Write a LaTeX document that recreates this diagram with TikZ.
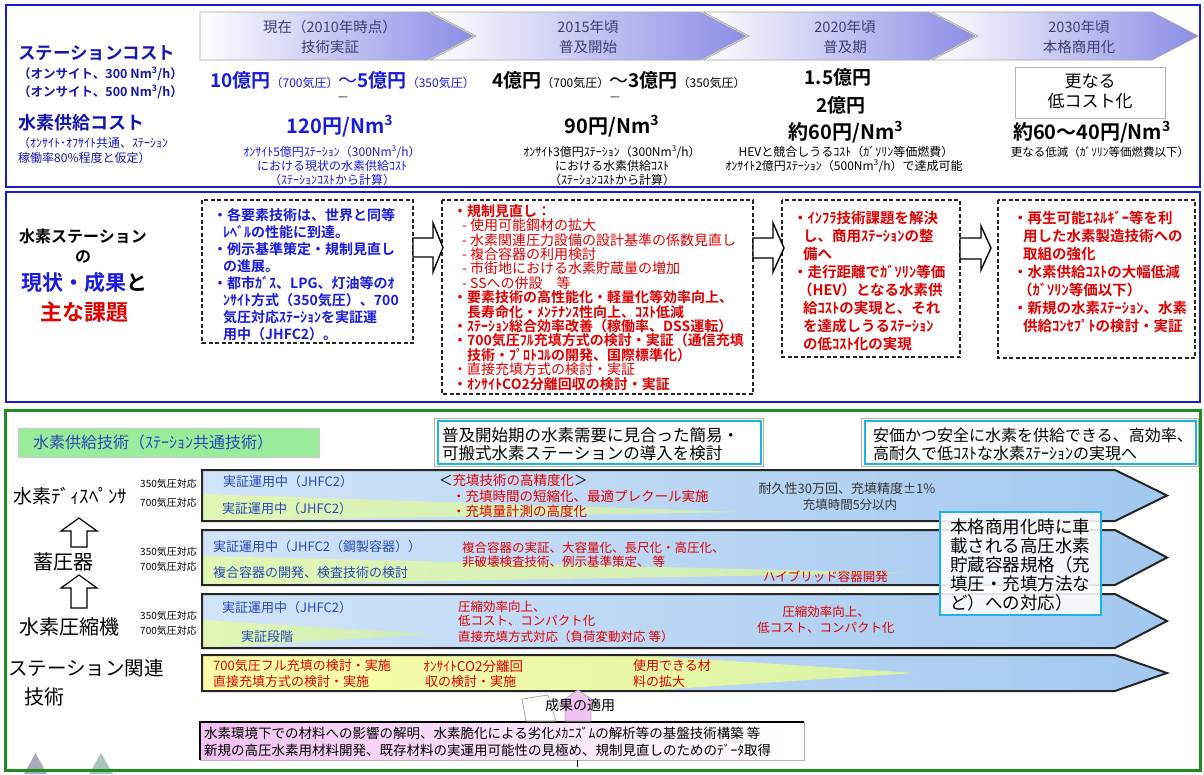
\documentclass[tikz,border=0pt]{standalone}
\usepackage{fontspec}
\setmainfont{Noto Sans CJK JP}[BoldFont={Noto Sans CJK JP Bold}]
\definecolor{secblue}{HTML}{1A1AD0}
\definecolor{lblblue}{HTML}{1414B0}
\definecolor{valblue}{HTML}{1A1AE0}
\definecolor{chevtxt}{HTML}{3E3E72}
\definecolor{chevfill}{HTML}{8C8CE6}
\definecolor{myred}{HTML}{E00000}
\definecolor{rowblue}{HTML}{2848B8}
\definecolor{secgreen}{HTML}{1E8C1E}
\definecolor{lblgreen}{HTML}{9AEC9A}
\definecolor{cyanb}{HTML}{1CB4E0}
\definecolor{rowL}{HTML}{D2E4F8}
\definecolor{rowR}{HTML}{A2C8F0}
\definecolor{wedgeL}{HTML}{E2F6B4}
\definecolor{wedgeR}{HTML}{CDEBB8}
\definecolor{yelL}{HTML}{FFFFA8}
\definecolor{yelM}{HTML}{FFFF48}
\definecolor{yelR}{HTML}{D8F2A8}
\definecolor{pinkf}{HTML}{F2C2F2}
\definecolor{txtgray}{HTML}{333333}
\newcommand\fz[1]{\fontsize{#1}{#1}\selectfont}
\newcounter{tn}
\newcommand\TL[4][west]{\stepcounter{tn}\node[anchor=#1,inner sep=0pt] (t\arabic{tn}) at (#2,#3) {#4};}
\tikzset{
  chev/.style={draw=gray!70, line width=0.8pt, left color=white, right color=chevfill},
  dbox/.style={draw=black!85, line width=1.6pt, dash pattern=on 4pt off 2.5pt},
  blockarr/.style={draw=black, line width=1.4pt, fill=white},
  rowfill/.style={left color=rowL, right color=rowR},
  rowwedge/.style={left color=wedgeL, right color=wedgeR},
  rowedge/.style={draw=black!85, line width=2pt},
  callout/.style={draw=cyanb, line width=2.5pt, fill=white},
}
\begin{document}
\begin{tikzpicture}[x=1pt,y=-1pt]
\useasboundingbox (0,0) rectangle (1204,774);
\fill[white] (0,0) rectangle (1204,774);

% ================= TOP SECTION =================
\draw[secblue, line width=2.5pt] (6,5) rectangle (1200,187);
\path[chev] (200,12) -- (427,12) -- (473,36) -- (427,60) -- (200,60) -- cycle;
\path[chev] (430,12) -- (700,12) -- (746,36) -- (700,60) -- (430,60) -- (476,36) -- cycle;
\path[chev] (703,12) -- (929,12) -- (975,36) -- (929,60) -- (703,60) -- (749,36) -- cycle;
\path[chev] (932,12) -- (1152,12) -- (1198,36) -- (1152,60) -- (932,60) -- (978,36) -- cycle;
\TL[center]{330}{27}{\color{chevtxt}\fz{14.5}現在（2010年時点）}
\TL[center]{330}{47}{\color{chevtxt}\fz{14.5}技術実証}
\TL[center]{588}{27}{\color{chevtxt}\fz{14.5}2015年頃}
\TL[center]{588}{47}{\color{chevtxt}\fz{14.5}普及開始}
\TL[center]{845}{27}{\color{chevtxt}\fz{14.5}2020年頃}
\TL[center]{845}{47}{\color{chevtxt}\fz{14.5}普及期}
\TL[center]{1079}{27}{\color{chevtxt}\fz{14.5}2030年頃}
\TL[center]{1079}{47}{\color{chevtxt}\fz{14.5}本格商用化}

% left labels
\TL{18}{53}{\color{lblblue}\bfseries\fz{17.5}ステーションコスト}
\TL{18}{74}{\color{lblblue}\bfseries\fz{12.5}（オンサイト、300 Nm\textsuperscript{3}/h）}
\TL{18}{92}{\color{lblblue}\bfseries\fz{12.5}（オンサイト、500 Nm\textsuperscript{3}/h）}
\TL{18}{123}{\color{lblblue}\bfseries\fz{18}水素供給コスト}
\TL{18}{143}{\color{lblblue}\fz{12}（ｵﾝｻｲﾄ･ｵﾌｻｲﾄ共通、ｽﾃｰｼｮﾝ}
\TL{18}{158}{\color{lblblue}\fz{12}稼働率80\%程度と仮定）}

% station cost row
\TL{210}{80}{\color{valblue}\bfseries\fz{19}10億円\mdseries\fz{12}（700気圧）\fz{19}～\bfseries 5億円\mdseries\fz{12}（350気圧）}
\TL{492}{80}{\bfseries\fz{19}4億円\mdseries\fz{12}（700気圧）\fz{19}～\bfseries 3億円\mdseries\fz{12}（350気圧）}
\TL[center]{838}{77}{\bfseries\fz{19}1.5億円}
\TL[center]{841}{105}{\bfseries\fz{19}2億円}
\draw[gray!60, line width=0.8pt, fill=white] (1015,67) rectangle (1165,118);
\TL[center]{1090}{81}{\fz{17}更なる}
\TL[center]{1090}{101}{\fz{17}低コスト化}
\TL[center]{343}{99}{\fz{11}—}
\TL[center]{615}{99}{\fz{11}—}

% supply cost row
\TL[center]{340}{126}{\color{valblue}\bfseries\fz{20}120円/Nm\textsuperscript{3}}
\TL[center]{612}{126}{\bfseries\fz{20}90円/Nm\textsuperscript{3}}
\TL[center]{846}{132}{\bfseries\fz{20}約60円/Nm\textsuperscript{3}}
\TL[center]{1092}{132}{\bfseries\fz{20}約60～40円/Nm\textsuperscript{3}}
\TL[center]{332}{152}{\color{valblue}\fz{12}ｵﾝｻｲﾄ5億円ｽﾃｰｼｮﾝ（300Nm\textsuperscript{3}/h）}
\TL[center]{332}{166}{\color{valblue}\fz{12}における現状の水素供給ｺｽﾄ}
\TL[center]{332}{180}{\color{valblue}\fz{12}（ｽﾃｰｼｮﾝｺｽﾄから計算）}
\TL[center]{612}{152}{\fz{12}ｵﾝｻｲﾄ3億円ｽﾃｰｼｮﾝ（300Nm\textsuperscript{3}/h）}
\TL[center]{612}{166}{\fz{12}における水素供給ｺｽﾄ}
\TL[center]{612}{180}{\fz{12}（ｽﾃｰｼｮﾝｺｽﾄから計算）}
\TL[center]{846}{152}{\fz{12}HEVと競合しうるｺｽﾄ（ｶﾞｿﾘﾝ等価燃費）}
\TL[center]{844}{166}{\fz{12}ｵﾝｻｲﾄ2億円ｽﾃｰｼｮﾝ（500Nm\textsuperscript{3}/h）で達成可能}
\TL[center]{1100}{152}{\fz{11.5}更なる低減（ｶﾞｿﾘﾝ等価燃費以下）}

% ================= MIDDLE SECTION =================
\draw[secblue, line width=2.5pt] (6,192) rectangle (1200,402);
\TL[center]{83}{236}{\bfseries\fz{16}水素ステーション}
\TL[center]{83}{257}{\bfseries\fz{16}の}
\TL[center]{84}{283}{\bfseries\fz{21}{\color{valblue}現状・成果}と}
\TL[center]{84}{312}{\bfseries\fz{22}\color{myred}主な課題}

\draw[dbox] (202,200) rectangle (413,343);
\draw[dbox] (442,200) rectangle (753,394);
\draw[dbox] (782,200) rectangle (960,357);
\draw[dbox] (998,200) rectangle (1195,358);

\draw[blockarr] (413,238) -- (433,238) -- (433,223) -- (443,247.5) -- (433,272) -- (433,257) -- (413,257) -- cycle;
\draw[blockarr] (753,238) -- (773,238) -- (773,223) -- (784,248) -- (773,272) -- (773,258) -- (753,258) -- cycle;
\draw[blockarr] (960,238) -- (981,238) -- (981,226) -- (991,248) -- (981,270) -- (981,259) -- (960,259) -- cycle;

% box 1
\TL{213}{215}{\color{valblue}\bfseries\fz{14}・各要素技術は、世界と同等}
\TL{223}{232}{\color{valblue}\bfseries\fz{14}ﾚﾍﾞﾙの性能に到達。}
\TL{213}{249}{\color{valblue}\bfseries\fz{14}・例示基準策定・規制見直し}
\TL{223}{266}{\color{valblue}\bfseries\fz{14}の進展。}
\TL{213}{283}{\color{valblue}\bfseries\fz{14}・都市ｶﾞｽ、LPG、灯油等のｵ}
\TL{223}{300}{\color{valblue}\bfseries\fz{14}ﾝｻｲﾄ方式（350気圧）、700}
\TL{223}{317}{\color{valblue}\bfseries\fz{14}気圧対応ｽﾃｰｼｮﾝを実証運}
\TL{223}{334}{\color{valblue}\bfseries\fz{14}用中（JHFC2）。}

% box 2
\TL{453}{211}{\color{myred}\bfseries\fz{14}・規制見直し：}
\TL{462}{225.4}{\color{myred}\fz{14}- 使用可能鋼材の拡大}
\TL{462}{239.8}{\color{myred}\fz{14}- 水素関連圧力設備の設計基準の係数見直し}
\TL{462}{254.2}{\color{myred}\fz{14}- 複合容器の利用検討}
\TL{462}{268.6}{\color{myred}\fz{14}- 市街地における水素貯蔵量の増加}
\TL{462}{283}{\color{myred}\fz{14}- SSへの併設　等}
\TL{453}{297.4}{\color{myred}\bfseries\fz{14}・要素技術の高性能化・軽量化等効率向上、}
\TL{467}{311.8}{\color{myred}\bfseries\fz{14}長寿命化・ﾒﾝﾃﾅﾝｽ性向上、ｺｽﾄ低減}
\TL{453}{326.2}{\color{myred}\bfseries\fz{14}・ｽﾃｰｼｮﾝ総合効率改善（稼働率、DSS運転）}
\TL{453}{340.6}{\color{myred}\bfseries\fz{14}・700気圧ﾌﾙ充填方式の検討・実証（通信充填}
\TL{467}{355}{\color{myred}\bfseries\fz{14}技術・ﾌﾟﾛﾄｺﾙの開発、国際標準化）}
\TL{453}{369.4}{\color{myred}\fz{14}・直接充填方式の検討・実証}
\TL{453}{383.8}{\color{myred}\bfseries\fz{14}・ｵﾝｻｲﾄCO2分離回収の検討・実証}

% box 3
\TL{793}{218}{\color{myred}\bfseries\fz{14.5}・ｲﾝﾌﾗ技術課題を解決}
\TL{803}{236}{\color{myred}\bfseries\fz{14.5}し、商用ｽﾃｰｼｮﾝの整}
\TL{803}{254}{\color{myred}\bfseries\fz{14.5}備へ}
\TL{793}{272}{\color{myred}\bfseries\fz{14.5}・走行距離でｶﾞｿﾘﾝ等価}
\TL{798}{290}{\color{myred}\bfseries\fz{14.5}（HEV）となる水素供}
\TL{803}{308}{\color{myred}\bfseries\fz{14.5}給ｺｽﾄの実現と、それ}
\TL{803}{326}{\color{myred}\bfseries\fz{14.5}を達成しうるｽﾃｰｼｮﾝ}
\TL{803}{344}{\color{myred}\bfseries\fz{14.5}の低ｺｽﾄ化の実現}

% box 4
\TL{1013}{218}{\color{myred}\bfseries\fz{14.5}・再生可能ｴﾈﾙｷﾞｰ等を利}
\TL{1023}{236}{\color{myred}\bfseries\fz{14.5}用した水素製造技術への}
\TL{1023}{254}{\color{myred}\bfseries\fz{14.5}取組の強化}
\TL{1013}{272}{\color{myred}\bfseries\fz{14.5}・水素供給ｺｽﾄの大幅低減}
\TL{1018}{290}{\color{myred}\bfseries\fz{14.5}（ｶﾞｿﾘﾝ等価以下）}
\TL{1013}{308}{\color{myred}\bfseries\fz{14.5}・新規の水素ｽﾃｰｼｮﾝ、水素}
\TL{1023}{326}{\color{myred}\bfseries\fz{14.5}供給ｺﾝｾﾌﾟﾄの検討・実証}

% ================= BOTTOM SECTION =================
\fill[fill={rgb,255:red,168;green,170;blue,188}] (24,774) -- (35.5,753) -- (47,774) -- cycle;
\fill[fill={rgb,255:red,168;green,196;blue,188}] (89,774) -- (101,753) -- (113,774) -- cycle;
\draw[secgreen, line width=3pt] (5,410) rectangle (1200,770);

\draw[fill=lblgreen, draw=gray!40, line width=0.6pt] (18,428) rectangle (319,457);
\TL{33}{442}{\color{rowblue}\fz{16}水素供給技術（ｽﾃｰｼｮﾝ共通技術）}

\draw[gray!60, line width=0.6pt] (434,418) rectangle (763,466);
\draw[callout] (438,421) rectangle (761,464);
\TL{442}{435}{\fz{16.5}普及開始期の水素需要に見合った簡易・}
\TL{442}{453}{\fz{16.5}可搬式水素ステーションの導入を検討}
\draw[gray!60, line width=0.6pt] (861,418) rectangle (1198,466);
\draw[callout] (865,421) rectangle (1196,464);
\TL{873}{435}{\fz{16}安価かつ安全に水素を供給できる、高効率、}
\TL{873}{453}{\fz{16}高耐久で低ｺｽﾄな水素ｽﾃｰｼｮﾝの実現へ}

% left row labels
\TL{13}{496}{\fz{19}水素ﾃﾞｨｽﾍﾟﾝｻ}
\TL{140}{484}{\fz{10}350気圧対応}
\TL{140}{503}{\fz{10}700気圧対応}
\draw[blockarr, line width=1.2pt] (79,518) -- (97,531) -- (87,531) -- (87,547) -- (71,547) -- (71,531) -- (61,531) -- cycle;
\TL{33}{562}{\fz{20}蓄圧器}
\TL{140}{552}{\fz{10}350気圧対応}
\TL{140}{567}{\fz{10}700気圧対応}
\draw[blockarr, line width=1.2pt] (79,575) -- (97,588) -- (87,588) -- (87,608) -- (71,608) -- (71,588) -- (61,588) -- cycle;
\TL{19}{627}{\fz{20}水素圧縮機}
\TL{140}{616}{\fz{10}350気圧対応}
\TL{140}{631}{\fz{10}700気圧対応}
\TL{8}{668}{\fz{19.5}ステーション関連}
\TL{24}{697}{\fz{20}技術}

% row arrows
\path[rowfill] (202,470) -- (1115,470) -- (1167,495.5) -- (1115,521) -- (202,521) -- cycle;
\path[rowwedge] (202,494) -- (745,512) -- (202,521) -- cycle;
\draw[rowedge] (202,470) -- (1115,470) -- (1167,495.5) -- (1115,521) -- (202,521) -- cycle;

\path[rowfill] (202,530) -- (1115,530) -- (1167,557.5) -- (1115,585) -- (202,585) -- cycle;
\path[rowwedge] (202,556) -- (912,573) -- (202,585) -- cycle;
\draw[rowedge] (202,530) -- (1115,530) -- (1167,557.5) -- (1115,585) -- (202,585) -- cycle;

\path[rowfill] (202,594) -- (1115,594) -- (1167,621) -- (1115,648) -- (202,648) -- cycle;
\path[rowwedge] (202,620) -- (432,634) -- (202,648) -- cycle;
\draw[rowedge] (202,594) -- (1115,594) -- (1167,621) -- (1115,648) -- (202,648) -- cycle;

\path[rowfill] (202,655) -- (1115,655) -- (1167,673) -- (1115,691) -- (202,691) -- cycle;
\path[left color=yelL, middle color=yelM, right color=yelR] (202,655) -- (640,655) -- (915,673) -- (640,691) -- (202,691) -- cycle;
\draw[rowedge] (202,655) -- (1115,655) -- (1167,673) -- (1115,691) -- (202,691) -- cycle;

% row 1 texts
\TL{223}{482}{\color{rowblue}\fz{13}実証運用中（JHFC2）}
\TL{222}{509}{\color{rowblue}\fz{13}実証運用中（JHFC2）}
\TL{439}{480}{\fz{13.5}＜{\color{myred}充填技術の高精度化}＞}
\TL{452}{496}{\color{myred}\fz{13.5}・充填時間の短縮化、最適プレクール実施}
\TL{452}{511}{\color{myred}\fz{13.5}・充填量計測の高度化}
\TL[center]{847}{489}{\color{txtgray}\fz{13}耐久性30万回、充填精度±1\%}
\TL[center]{850}{505}{\color{txtgray}\fz{12.5}充填時間5分以内}

% row 2 texts
\TL{213}{547}{\color{rowblue}\fz{13}実証運用中（JHFC2（鋼製容器））}
\TL{213}{573}{\color{rowblue}\fz{13}複合容器の開発、検査技術の検討}
\TL{462}{548}{\color{myred}\fz{12.5}複合容器の実証、大容量化、長尺化・高圧化、}
\TL{462}{562}{\color{myred}\fz{12.5}非破壊検査技術、例示基準策定、 等}
\TL{763}{577}{\color{myred}\fz{12.5}ハイブリッド容器開発}

% row 3 texts
\TL{222}{608}{\color{rowblue}\fz{13}実証運用中（JHFC2）}
\TL{241}{637}{\color{rowblue}\fz{13}実証段階}
\TL{458}{607}{\color{myred}\fz{12.5}圧縮効率向上、}
\TL{458}{621}{\color{myred}\fz{12.5}低コスト、コンパクト化}
\TL{458}{637}{\color{myred}\fz{12.5}直接充填方式対応（負荷変動対応 等）}
\TL[center]{826}{612}{\color{myred}\fz{12.5}圧縮効率向上、}
\TL[center]{826}{628}{\color{myred}\fz{12.5}低コスト、コンパクト化}

% row 4 texts
\TL{213}{666}{\color{myred}\fz{13}700気圧フル充填の検討・実施}
\TL{213}{682}{\color{myred}\fz{13}直接充填方式の検討・実施}
\TL{423}{666}{\color{myred}\fz{13.5}ｵﾝｻｲﾄCO2分離回}
\TL{425}{682}{\color{myred}\fz{13}収の検討・実施}
\TL{633}{666}{\color{myred}\fz{13}使用できる材}
\TL{633}{682}{\color{myred}\fz{13}料の拡大}

% blue callout over rows
\path[fill=white, fill opacity=0.88] (940,512) rectangle (1101,615);
\draw[cyanb, line width=2.5pt] (940,512) rectangle (1101,615);
\TL{950}{527}{\fz{17.5}本格商用化時に車}
\TL{950}{546}{\fz{17.5}載される高圧水素}
\TL{950}{565}{\fz{17.5}貯蔵容器規格（充}
\TL{950}{584}{\fz{17.5}填圧・充填方法な}
\TL{950}{603}{\fz{17.5}ど）への対応）}

% pink box and arrow
\path[left color=pinkf, right color=white] (200,722) rectangle (804,760);
\draw[gray!60, line width=0.6pt] (200,722) rectangle (804,760);
\draw[black, line width=1.8pt] (200,760) -- (200,722) -- (804,722);
\TL{204}{733}{\fz{13.5}水素環境下での材料への影響の解明、水素脆化による劣化ﾒｶﾆｽﾞﾑの解析等の基盤技術構築 等}
\TL{204}{750}{\fz{13.5}新規の高圧水素用材料開発、既存材料の実運用可能性の見極め、規制見直しのためのﾃﾞｰﾀ取得}
\draw[black, line width=0.8pt] (577,760) -- (577,767);
\draw[gray!70, line width=0.8pt, fill=white] (522,699) -- (548,695) -- (556,721) -- (526,721) -- cycle;
\draw[gray!60, line width=0.8pt, fill=pinkf] (578,690) -- (601,706) -- (591,706) -- (591,721) -- (565,721) -- (565,706) -- (555,706) -- cycle;
\TL[center]{580}{705}{\fz{14}成果の適用}
\end{tikzpicture}
\end{document}
